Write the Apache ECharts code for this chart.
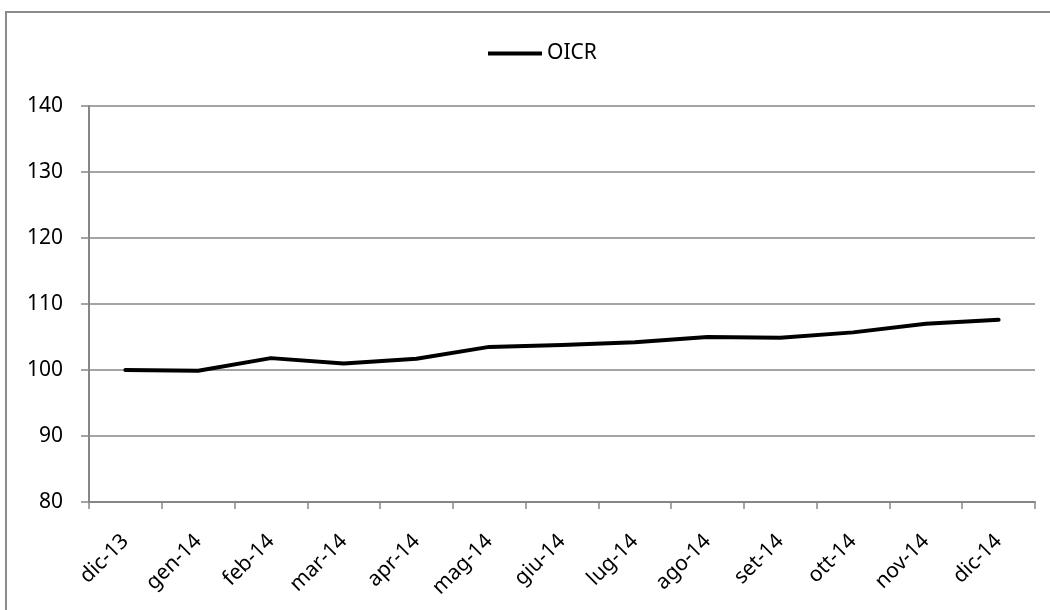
<!DOCTYPE html>
<html>
<head>
<meta charset="utf-8">
<script src="https://cdn.jsdelivr.net/npm/echarts@6/dist/echarts.min.js"></script>
<style>
  html, body { margin: 0; padding: 0; background: #fff; overflow: hidden; }
  #frame {
    position: absolute; left: 5px; top: 11px;
    width: 1100px; height: 700px;
    border: 2px solid #8c8c8c;
  }
  #chart { position: absolute; left: 0; top: 0; width: 1050px; height: 610px; }
</style>
</head>
<body>
<div id="frame"></div>
<div id="chart"></div>
<script>
const months = ['dic-13', 'gen-14', 'feb-14', 'mar-14', 'apr-14', 'mag-14', 'giu-14',
  'lug-14', 'ago-14', 'set-14', 'ott-14', 'nov-14', 'dic-14']
const oicr = [100.0, 99.9, 101.8, 101.0, 101.7, 103.5, 103.8, 104.2, 105.0, 104.9, 105.7, 107.0, 107.6]
const yMin = 80
const yMax = 140
const yStep = 10

const font = 'Noto Sans'
const gray = '#868686'

const chart = echarts.init(document.getElementById('chart'))
chart.setOption({
  animation: false,
  legend: {
    top: 38,
    left: 483,
    data: ['OICR'],
    itemWidth: 54,
    itemHeight: 4,
    itemGap: 4,
    icon: 'rect',
    textStyle: { fontFamily: font, fontSize: 21, color: '#000', padding: [0, 0, 0, 0] }
  },
  grid: { left: 89, right: 15, top: 106, bottom: 108 },
  xAxis: {
    type: 'category',
    data: months,
    boundaryGap: true,
    axisLine: { lineStyle: { color: gray, width: 2 } },
    axisTick: { show: true, length: 7, lineStyle: { color: gray, width: 1.5 } },
    axisLabel: {
      rotate: 45,
      margin: 36,
      fontFamily: font,
      fontSize: 21,
      color: '#000',
      interval: 0
    }
  },
  yAxis: {
    type: 'value',
    min: yMin,
    max: yMax,
    interval: yStep,
    axisLine: { show: true, lineStyle: { color: gray, width: 2 } },
    axisTick: { show: true, length: 8, lineStyle: { color: gray, width: 1.5 } },
    axisLabel: { fontFamily: font, fontSize: 21, color: '#000', margin: 26 },
    splitLine: { lineStyle: { color: gray, width: 1.5 } }
  },
  series: [{
    name: 'OICR',
    type: 'line',
    data: oicr,
    symbol: 'none',
    lineStyle: { color: '#000', width: 4, cap: 'round', join: 'round' },
    itemStyle: { color: '#000' }
  }]
})
</script>
</body>
</html>
